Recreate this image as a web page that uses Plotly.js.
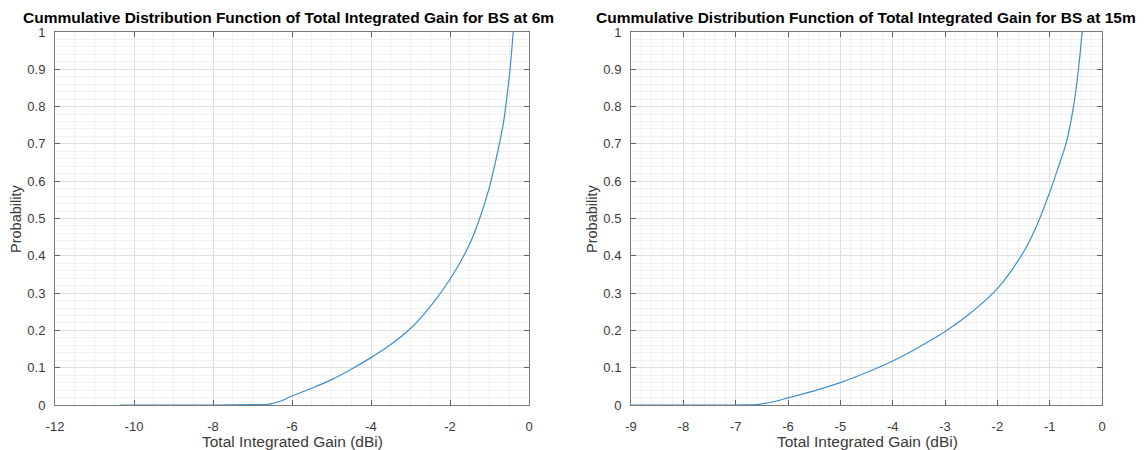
<!DOCTYPE html>
<html>
<head>
<meta charset="utf-8">
<script src="https://cdn.plot.ly/plotly-3.0.1.min.js"></script>
<style>html,body{margin:0;padding:0;background:#fff;}#chart{width:1146px;height:450px;}</style>
</head>
<body>
<div id="chart"></div>
<script>
// Data
const gain6m = [-10.35, -8, -7, -6.6, -6.5, -6.3, -6, -5.5, -5, -4.5, -4, -3.5, -3, -2.5, -2, -1.5, -1.25, -1, -0.8, -0.65, -0.56, -0.48, -0.4];
const prob6m = [0, 0, 0.001, 0.002, 0.004, 0.01, 0.024, 0.045, 0.068, 0.096, 0.127, 0.162, 0.205, 0.264, 0.337, 0.432, 0.50, 0.585, 0.675, 0.755, 0.825, 0.9, 1.0];
const gain15m = [-9, -7, -6.6, -6.5, -6.3, -6, -5.5, -5, -4.5, -4, -3.5, -3, -2.5, -2, -1.5, -1.25, -1, -0.86, -0.68, -0.55, -0.45, -0.38];
const prob15m = [0, 0, 0.001, 0.003, 0.008, 0.019, 0.038, 0.06, 0.087, 0.118, 0.155, 0.197, 0.248, 0.312, 0.41, 0.48, 0.57, 0.627, 0.705, 0.795, 0.90, 1.0];

const xTicks6m = [-12, -10, -8, -6, -4, -2, 0];
const xTickText6m = ['-12', '-10', '-8', '-6', '-4', '-2', '0'];
const xTicks15m = [-9, -8, -7, -6, -5, -4, -3, -2, -1, 0];
const xTickText15m = ['-9', '-8', '-7', '-6', '-5', '-4', '-3', '-2', '-1', '0'];
const yTicks = [0, 0.1, 0.2, 0.3, 0.4, 0.5, 0.6, 0.7, 0.8, 0.9, 1];
const yTickText = ['0', '0.1', '0.2', '0.3', '0.4', '0.5', '0.6', '0.7', '0.8', '0.9', '1'];

const titles = ['Cummulative Distribution Function of Total Integrated Gain for BS at 6m',
                'Cummulative Distribution Function of Total Integrated Gain for BS at 15m'];
const xLabel = 'Total Integrated Gain (dBi)';
const yLabel = 'Probability';

const W = 1146, H = 450;
const lineColor = '#3f8fcf';
const FONT = 'Liberation Sans, Arial, sans-serif';
const tickFont = {family: FONT, size: 13, color: '#3a3a3a'};

function xaxis(range, tv, tt, minorStep, domain, anchor) {
  return {
    domain: domain, anchor: anchor, range: range,
    tickmode: 'array', tickvals: tv, ticktext: tt,
    ticks: 'inside', ticklen: 5, tickcolor: '#606060',
    showline: true, mirror: 'ticks', linecolor: '#7a7a7a', linewidth: 1,
    showgrid: true, gridcolor: '#dedede', gridwidth: 1, zeroline: false,
    minor: {dtick: minorStep, showgrid: true, gridcolor: '#f1f1f1', gridwidth: 1, ticks: ''},
    tickfont: tickFont, ticklabelstandoff: 9, fixedrange: true
  };
}
function yaxis(domain, anchor) {
  return {
    domain: domain, anchor: anchor, range: [0, 1],
    tickmode: 'array', tickvals: yTicks, ticktext: yTickText,
    ticks: 'inside', ticklen: 5, tickcolor: '#606060',
    showline: true, mirror: 'ticks', linecolor: '#7a7a7a', linewidth: 1,
    showgrid: true, gridcolor: '#dedede', gridwidth: 1, zeroline: false,
    minor: {dtick: 0.02, showgrid: true, gridcolor: '#f1f1f1', gridwidth: 1, ticks: ''},
    tickfont: tickFont, ticklabelstandoff: 6, fixedrange: true
  };
}

const L = [55 / W, 529 / W];
const R = [631 / W, 1102 / W];
const Y = [1 - 405 / H, 1 - 32 / H];

const traces = [
  {x: gain6m, y: prob6m, type: 'scatter', mode: 'lines', line: {color: lineColor, width: 1.2, shape: 'spline', smoothing: 1}, xaxis: 'x', yaxis: 'y', showlegend: false, hoverinfo: 'skip'},
  {x: gain15m, y: prob15m, type: 'scatter', mode: 'lines', line: {color: lineColor, width: 1.2, shape: 'spline', smoothing: 1}, xaxis: 'x2', yaxis: 'y2', showlegend: false, hoverinfo: 'skip'}
];

function ann(text, xpx, ypx, opts) {
  return Object.assign({text: text, xref: 'paper', yref: 'paper', x: xpx / W, y: 1 - ypx / H,
    xanchor: 'center', yanchor: 'middle', showarrow: false,
    font: {family: FONT, size: 15.5, color: '#3a3a3a'}}, opts || {});
}

const titleFont = {family: FONT, size: 15.5, color: '#000000'};

const layout = {
  width: W, height: H,
  margin: {l: 0, r: 0, t: 0, b: 0},
  paper_bgcolor: '#ffffff', plot_bgcolor: '#ffffff',
  xaxis: xaxis([-12, 0], xTicks6m, xTickText6m, 0.5, L, 'y'),
  yaxis: yaxis(Y, 'x'),
  xaxis2: xaxis([-9, 0], xTicks15m, xTickText15m, 0.2, R, 'y2'),
  yaxis2: yaxis(Y, 'x2'),
  annotations: [
    ann('<b>' + titles[0] + '</b>', 288, 17, {font: titleFont}),
    ann('<b>' + titles[1] + '</b>', 866, 17, {font: titleFont}),
    ann(xLabel, 292, 441),
    ann(xLabel, 867, 441),
    ann(yLabel, 16, 219, {textangle: -90, font: {family: FONT, size: 14.5, color: '#3a3a3a'}}),
    ann(yLabel, 592, 219, {textangle: -90, font: {family: FONT, size: 14.5, color: '#3a3a3a'}})
  ]
};

Plotly.newPlot('chart', traces, layout, {displayModeBar: false, staticPlot: true});
</script>
</body>
</html>
